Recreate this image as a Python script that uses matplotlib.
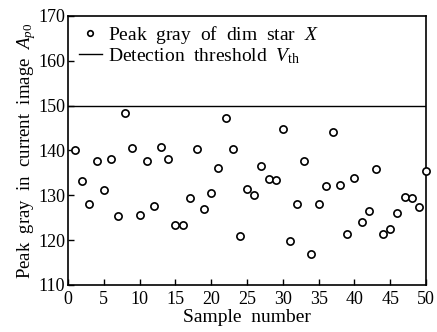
import matplotlib
matplotlib.use('Agg')
import matplotlib.pyplot as plt
from matplotlib import rcParams

rcParams['font.family'] = 'Liberation Serif'
rcParams['font.size'] = 12
rcParams['mathtext.fontset'] = 'custom'
rcParams['mathtext.rm'] = 'Liberation Serif'
rcParams['mathtext.it'] = 'Liberation Serif:italic'
rcParams['xtick.direction'] = 'in'
rcParams['ytick.direction'] = 'in'

# sample index and peak gray value of the dim star
samples = list(range(1, 51))
peak_gray = [140.0, 133.3, 128.1, 137.6, 131.1, 138.1, 125.3, 148.4, 140.6, 125.5,
             137.7, 127.7, 140.7, 138.1, 123.4, 123.3, 129.3, 140.4, 126.9, 130.6,
             136.0, 147.2, 140.4, 121.0, 131.3, 130.1, 136.5, 133.6, 133.5, 144.7,
             119.7, 128.0, 137.6, 116.8, 128.1, 132.1, 144.2, 132.4, 121.4, 133.9,
             124.1, 126.5, 135.8, 121.4, 122.5, 126.1, 129.6, 129.4, 127.3, 135.5]
threshold = 150
x_ticks = [0, 5, 10, 15, 20, 25, 30, 35, 40, 45, 50]
y_ticks = [110, 120, 130, 140, 150, 160, 170]

fig = plt.figure(figsize=(4.37, 3.32), dpi=100)
ax = fig.add_axes([0.1556, 0.1416, 0.8194, 0.8104])

ax.plot(samples, peak_gray, ls='none', marker='o', ms=5.2, mfc='white', mec='black',
        mew=1.2, label=r'Peak  gray  of  dim  star  $\mathit{X}$', clip_on=False, zorder=3)
ax.axhline(threshold, color='black', lw=1.0,
           label=r'Detection  threshold  $\mathit{V}_{\mathrm{th}}$')

ax.set_xlim(0, 50)
ax.set_ylim(110, 170)
ax.set_xticks(x_ticks)
ax.set_yticks(y_ticks)
ax.tick_params(axis='x', pad=4)
ax.tick_params(top=False, right=False, length=4, width=1, labelsize=13)
ax.tick_params(axis='y', pad=2)
for s in ax.spines.values():
    s.set_linewidth(1.2)

ax.set_xlabel('Sample  number', fontsize=14, labelpad=1)
ax.set_ylabel(r'Peak  gray  in  current  image  $\mathit{A}_{\mathit{p0}}$', fontsize=13.5, labelpad=0)

leg = ax.legend(loc='upper left', frameon=False, fontsize=14, handlelength=1.2,
                handletextpad=0.3, borderaxespad=0, borderpad=0, labelspacing=0.0,
                bbox_to_anchor=(0.03, 0.97))
for h in leg.legend_handles[:1]:
    h.set_markersize(4)

fig.savefig('out.png', dpi=100)
